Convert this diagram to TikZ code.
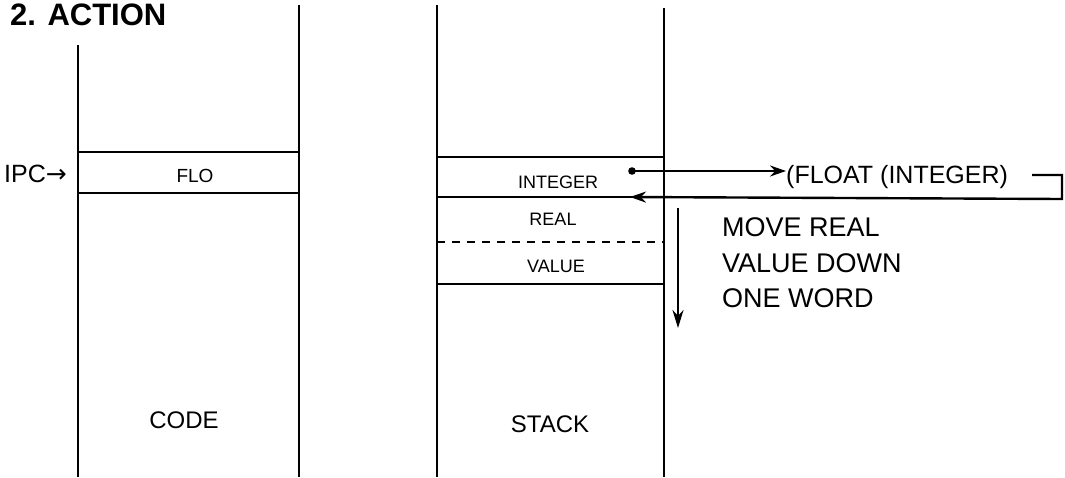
\documentclass[tikz,border=0pt]{standalone}
\usepackage{fontspec}
\setmainfont{Liberation Sans}
\newfontfamily\arrowfont{DejaVu Sans}
\usetikzlibrary{arrows.meta}
\tikzset{
  wall/.style={line width=2.6pt},
  rowline/.style={line width=2.6pt},
  conn/.style={line width=2.4pt},
  lbl/.style={inner sep=0pt, anchor=base},
  lblw/.style={inner sep=0pt, anchor=base west},
  fs/.style={font=\fontsize{#1}{#1}\selectfont},
  tip/.style={-{Stealth[length=16pt,width=11pt]}},
}
\begin{document}
\begin{tikzpicture}[x=1pt,y=-1pt]
\useasboundingbox (0,0) rectangle (1065,477);
% title
\node[lblw, font=\bfseries\fontsize{31}{31}\selectfont] (title) at (10,25) {2. ACTION};
% code column
\draw[wall] (78,45) -- (78,477);
\draw[wall] (299,5) -- (299,477);
\draw[rowline] (78,152) -- (299,152);
\draw[rowline] (78,193) -- (299,193);
\node[lbl, fs=19] (flo) at (195,182) {FLO};
\node[lblw, fs=25] (ipc) at (4,182) {IPC{\arrowfont →}};
\node[lbl, fs=24] (code) at (184,428) {CODE};
% stack column
\draw[wall] (437,5) -- (437,477);
\draw[wall] (664,8) -- (664,477);
\draw[rowline] (437,157) -- (664,157);
\draw[rowline] (437,197) -- (664,197);
\draw[rowline, dashed, dash pattern=on 8pt off 7pt] (437,242) -- (664,242);
\draw[rowline] (437,284) -- (664,284);
\node[lbl, fs=18] (integer) at (558,188) {INTEGER};
\node[lbl, fs=18] (real) at (553,225) {REAL};
\node[lbl, fs=18] (value) at (556,272) {VALUE};
\node[lbl, fs=24] (stack) at (550,432) {STACK};
% float expression
\node[lblw, fs=25] (float) at (786,183) {(FLOAT (INTEGER)};
\coordinate (dot) at (632,171);
\coordinate (ret) at (630,197);
\coordinate (b1) at (1032,175);
\coordinate (b2) at (1062,175);
\coordinate (b3) at (1062,199);
\fill (dot) circle (3.8pt);
\draw[conn, tip] (dot) -- (float.west |- dot);
\draw[conn, tip] (b1) -- (b2) -- (b3) -- (ret);
% move arrow and text
\coordinate (m1) at (678,208);
\coordinate (m2) at (678,328);
\draw[conn, -{Stealth[length=18pt,width=11pt]}] (m1) -- (m2);
\node[lblw, fs=27] (t1) at (722,236) {MOVE REAL};
\node[lblw, fs=27] (t2) at (722,272) {VALUE DOWN};
\node[lblw, fs=27] (t3) at (722,307) {ONE WORD};
\end{tikzpicture}
\end{document}
